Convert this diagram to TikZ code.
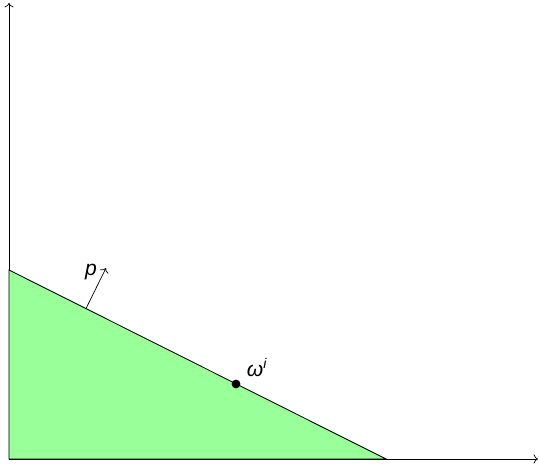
\documentclass[tikz,border=0pt]{standalone}
\usepackage{fontspec}
\usepackage{xcolor}
\usepackage{tikz}
\usetikzlibrary{arrows.meta, positioning}
\newfontfamily\lblfont{Liberation Sans}
\definecolor{kgreen}{HTML}{99FF99}

\begin{document}
\begin{tikzpicture}[x=0.02cm, y=0.02cm,
    axis/.style={->, line width=0.4pt},
    budget/.style={fill=kgreen, draw=black, line width=0.5pt},
    lbl/.style={font=\lblfont\itshape\large, inner sep=1pt}]

  \useasboundingbox (0,0) rectangle (539,465);

  %% axes
  \coordinate (O) at (9,6);
  \coordinate (xend) at (538,6);
  \coordinate (yend) at (9,462);
  \draw[axis] (O) -- (xend);
  \draw[axis] (O) -- (yend);

  %% budget set
  \coordinate (A) at (9,195);
  \coordinate (B) at (386,6);
  \filldraw[budget] (O) -- (A) -- (B) -- cycle;

  %% price normal
  \coordinate (pbase) at (86,156.4);
  \coordinate (ptip) at (106,197);
  \draw[->] (pbase) -- (ptip);
  \node[lbl] (plbl) at (91,193) {p};

  %% endowment
  \node[circle, fill=black, inner sep=0pt, minimum size=5pt] (w) at (236,81) {};
  \node[lbl, anchor=south west] (wlbl) at ([xshift=5pt,yshift=3pt]w.center) {ω\textsuperscript{i}};

\end{tikzpicture}
\end{document}
